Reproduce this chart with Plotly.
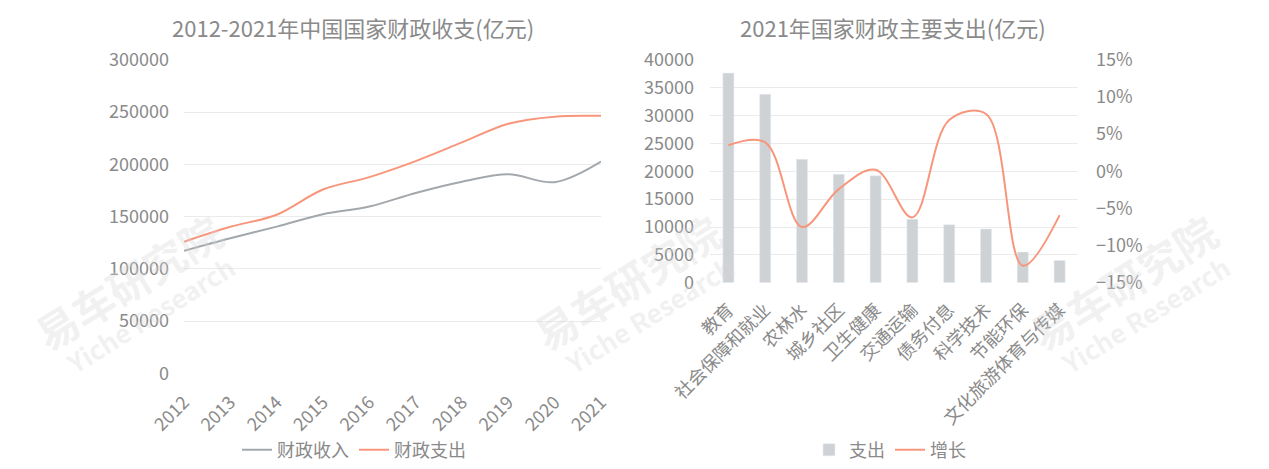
import plotly.graph_objects as go

# ---------------- data ----------------
years = ['2012', '2013', '2014', '2015', '2016', '2017', '2018', '2019', '2020', '2021']
revenue = [117254, 129210, 140370, 152269, 159605, 172593, 183352, 190390, 182914, 202539]
expenditure = [125953, 140212, 151786, 175878, 187755, 203085, 220904, 238858, 245588, 246322]

categories = ['教育', '社会保障和就业', '农林水', '城乡社区', '卫生健康',
              '交通运输', '债务付息', '科学技术', '节能环保', '文化旅游体育与传媒']
spending = [37600, 33800, 22150, 19450, 19200, 11400, 10400, 9650, 5500, 4000]
growth = [3.5, 3.9, -7.5, -2.4, 0.2, -6.2, 6.9, 7.7, -12.7, -5.9]

left_title = '2012-2021年中国国家财政收支(亿元)'
right_title = '2021年国家财政主要支出(亿元)'

# ---------------- style ----------------
W, H = 1269, 469
FONT = 'Noto Sans CJK SC'
TXT = '#8a8a8a'
GRID = '#ebebeb'
GRAY_LINE = '#a3a8ad'
ORANGE = '#f8967c'
BAR = '#cfd2d5'


def px(x):
    return x / W


def py(y):
    return 1 - y / H


fig = go.Figure()

fig.add_trace(go.Scatter(x=years, y=revenue, name='财政收入', mode='lines',
                         line=dict(color=GRAY_LINE, width=2, shape='spline', smoothing=1.0),
                         xaxis='x', yaxis='y', legend='legend'))
fig.add_trace(go.Scatter(x=years, y=expenditure, name='财政支出', mode='lines',
                         line=dict(color=ORANGE, width=2, shape='spline', smoothing=1.0),
                         xaxis='x', yaxis='y', legend='legend'))

fig.add_trace(go.Bar(x=categories, y=spending, name='支出', marker_color=BAR,
                     width=0.3, xaxis='x2', yaxis='y2', legend='legend2'))
fig.add_trace(go.Scatter(x=categories, y=growth, name='增长', mode='lines',
                         line=dict(color=ORANGE, width=2, shape='spline', smoothing=1.0),
                         xaxis='x2', yaxis='y3', legend='legend2'))

tickfont = dict(family=FONT, size=18, color=TXT)

fig.update_layout(
    width=W, height=H,
    margin=dict(l=0, r=0, t=0, b=0),
    paper_bgcolor='white', plot_bgcolor='white',
    font=dict(family=FONT, color=TXT, size=18),
    showlegend=True,
    xaxis=dict(domain=[px(184), px(601)], anchor='y', type='category',
               tickangle=-45, tickfont=tickfont, showgrid=False, showline=False,
               zeroline=False, ticks='', ticklabelstandoff=14, automargin=False),
    yaxis=dict(domain=[py(375), py(60)], anchor='x', range=[0, 300000], dtick=50000,
               tickformat='d', tickfont=tickfont, showgrid=True, gridcolor=GRID, gridwidth=1,
               zeroline=False, showline=False, ticks='', ticklabelstandoff=14,
               automargin=False),
    xaxis2=dict(domain=[px(710), px(1078)], anchor='y2', type='category',
                tickangle=-45, tickfont=tickfont, showgrid=False, showline=False,
                zeroline=False, ticks='', ticklabelstandoff=12, automargin=False),
    yaxis2=dict(domain=[py(284), py(60)], anchor='x2', range=[0, 40000], dtick=5000,
                tickformat='d', tickfont=tickfont, showgrid=True, gridcolor=GRID, gridwidth=1,
                zeroline=False, showline=False, ticks='', ticklabelstandoff=15,
                automargin=False),
    yaxis3=dict(overlaying='y2', anchor='x2', side='right', range=[-15, 15], dtick=5,
                ticksuffix='%', tickfont=tickfont, showgrid=False, zeroline=False,
                showline=False, ticks='', ticklabelstandoff=17, automargin=False),
    legend=dict(orientation='h', x=px(354), y=py(452), xanchor='center', yanchor='middle',
                font=dict(family=FONT, size=18, color=TXT), bgcolor='rgba(0,0,0,0)',
                itemwidth=30, tracegroupgap=0),
    legend2=dict(orientation='h', x=px(890), y=py(452), xanchor='center', yanchor='middle',
                 font=dict(family=FONT, size=18, color=TXT), bgcolor='rgba(0,0,0,0)',
                 itemwidth=30, tracegroupgap=0),
    bargap=0.7,
)

annotations = [
    dict(text=left_title, x=px(353), y=py(27), xref='paper', yref='paper',
         showarrow=False, font=dict(family=FONT, size=22, color=TXT),
         xanchor='center', yanchor='middle'),
    dict(text=right_title, x=px(893), y=py(27), xref='paper', yref='paper',
         showarrow=False, font=dict(family=FONT, size=22, color=TXT),
         xanchor='center', yanchor='middle'),
]

# faint watermarks
for cx in (128, 627, 1123):
    annotations.append(dict(text='<b>易车研究院</b>', x=px(cx), y=py(283), xref='paper', yref='paper',
                            showarrow=False, textangle=-32,
                            font=dict(family=FONT, size=42, color='rgba(215,215,215,0.35)'),
                            xanchor='center', yanchor='middle'))
    annotations.append(dict(text='<b>Yiche Research</b>', x=px(cx + 22), y=py(316), xref='paper', yref='paper',
                            showarrow=False, textangle=-32,
                            font=dict(family=FONT, size=26, color='rgba(215,215,215,0.35)'),
                            xanchor='center', yanchor='middle'))

fig.update_layout(annotations=annotations)

fig.write_html('out.html')
